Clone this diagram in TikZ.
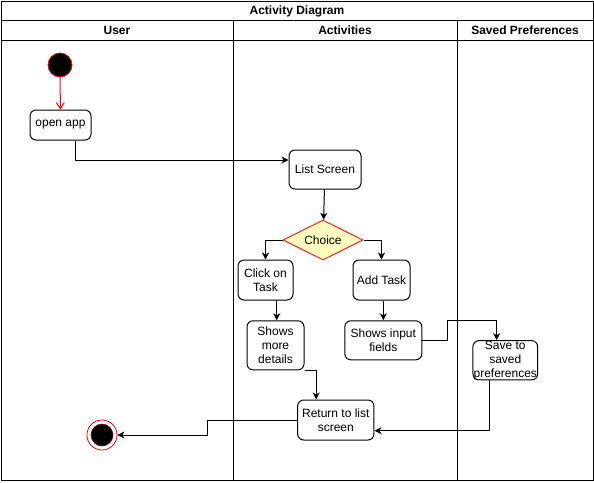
\documentclass[tikz,border=0pt]{standalone}
\usepackage{fontspec}
\setmainfont{Liberation Sans}
\usetikzlibrary{shapes.geometric,arrows.meta,calc}
\begin{document}
\begin{tikzpicture}[x=1pt,y=-1pt,
  every node/.style={font=\fontsize{12}{14}\selectfont, inner sep=0pt},
  actbox/.style={draw, line width=1pt, rounded corners=6pt, align=center, fill=white},
  flow/.style={draw, line width=1pt, -{Stealth[length=7pt,width=7pt,inset=2pt]}},
  lane/.style={draw, line width=1pt},
  hdr/.style={font=\bfseries\fontsize{12}{14}\selectfont}
]
\useasboundingbox (0,0) rectangle (594,482);
% frame and lanes
\draw[lane] (1,1) rectangle (593,480);
\draw[lane] (1,20.5) -- (593,20.5);
\draw[lane] (1,40.5) -- (593,40.5);
\draw[lane] (233,20.5) -- (233,480);
\draw[lane] (457,20.5) -- (457,480);
\node[hdr] (title) at (297,11) {Activity Diagram};
\node[hdr] (hu) at (117,30.5) {User};
\node[hdr] (ha) at (345,30.5) {Activities};
\node[hdr] (hs) at (525,30.5) {Saved Preferences};
% nodes
\node[circle, fill=black, draw=red, line width=0.8pt, minimum size=24pt] (start) at (60,65) {};
\node[actbox, minimum width=61pt, minimum height=30pt] (open) at (60.5,125) {open app};
\node[actbox, minimum width=72pt, minimum height=39pt] (list) at (325,169.5) {List Screen};
\node[diamond, aspect=2, draw={rgb,255:red,235;green,40;blue,40}, fill={rgb,255:red,255;green,255;blue,192}, line width=1pt, minimum width=80pt, minimum height=40pt, inner sep=0pt] (choice) at (323,240) {Choice};
\node[actbox, minimum width=55pt, minimum height=40pt] (click) at (265.5,280) {Click on\\Task};
\node[actbox, minimum width=57pt, minimum height=40pt] (add) at (381.5,280) {Add Task};
\node[actbox, minimum width=57pt, minimum height=49pt] (more) at (275.5,345.3) {Shows\\more\\details};
\node[actbox, minimum width=77pt, minimum height=39pt] (input) at (383.3,340.3) {Shows input\\fields};
\node[actbox, minimum width=64.7pt, minimum height=39.3pt] (save) at (505.3,360.3) {Save to\\saved\\preferences};
\node[actbox, minimum width=76.3pt, minimum height=40pt] (ret) at (335.8,420) {Return to list\\screen};
\node[circle, draw=red, line width=0.8pt, fill=white, minimum size=30pt] (endc) at (102,435) {};
\node[circle, fill=black, draw={rgb,255:red,150;green,0;blue,0}, line width=0.6pt, minimum size=22pt] (endin) at (102,435) {};
% connectors
\draw[draw=red, line width=1pt, -{Straight Barb[length=6pt,width=8pt]}] (start) -- (open);
\draw[flow] ($(open.south)+(14.5,0)$) |- ($(list.west)+(0,-9.5)$);
\draw[flow] (list) -- (choice);
\draw[flow] (choice.west) -| (click.north);
\draw[flow] (choice.east) -| (add.north);
\draw[flow] ($(more.north)+(1.2,-20)$) -- ($(more.north)+(1.2,0)$);
\draw[flow] (input.north |- add.south) -- (input.north);
\draw[flow] (input.east) -- ++(25.3,0) |- ($(save.north)+(-8.6,-20)$) -- ($(save.north)+(-8.6,0)$);
\draw[flow] (more.south east) -| ($(ret.north west)+(19,0)$);
\draw[flow] ($(save.south)+(-16,0)$) |- ($(ret.east)+(0,10.7)$);
\draw[flow] (ret.west) -- ++(-90,0) |- (endc.east);
\end{tikzpicture}
\end{document}
